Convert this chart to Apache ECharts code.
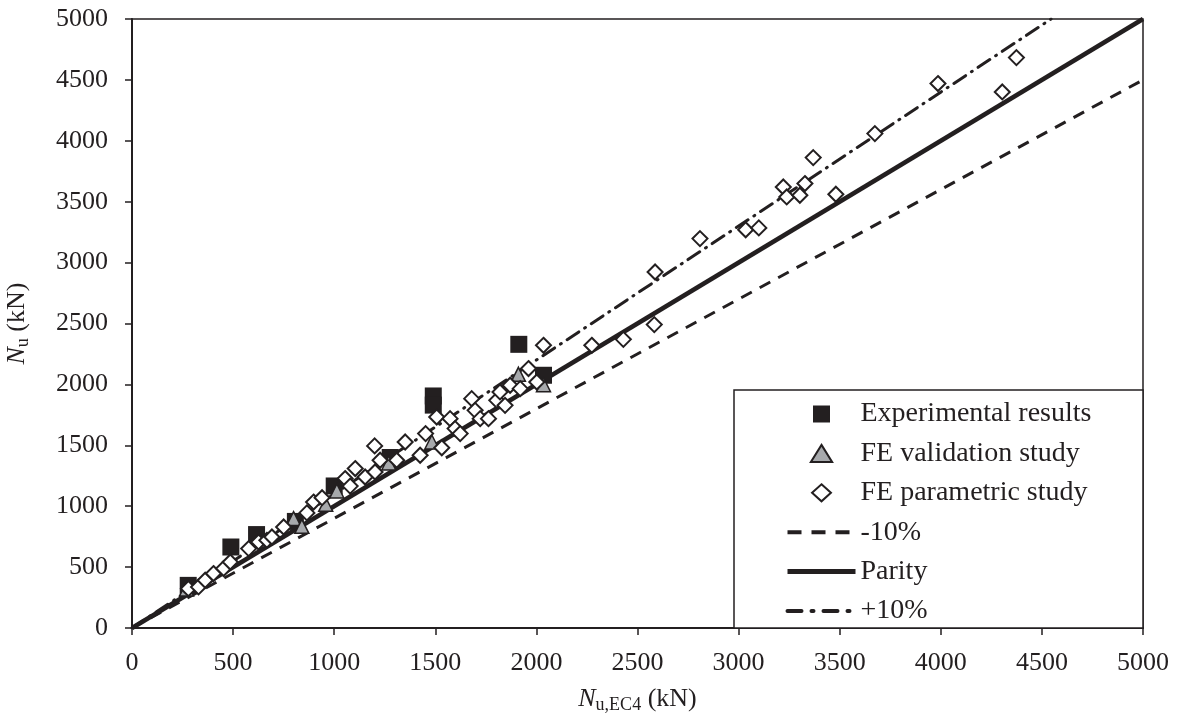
<!DOCTYPE html>
<html>
<head>
<meta charset="utf-8">
<script src="https://cdn.jsdelivr.net/npm/echarts@6/dist/echarts.min.js"></script>
<style>
html,body{margin:0;padding:0;background:#fff;}
#echartsDiv{width:1180px;height:720px;}
</style>
</head>
<body>
<div id="echartsDiv"></div>
<script>
var myChart=echarts.init(document.getElementById('echartsDiv'));

//试验结果 [N_u,EC4, N_u]
var expData=[[278,350],[489,665],[616,767],[808,875],[1000,1166],[1277,1400],[1490,1905],[1490,1830],[1913,2329],[2035,2075]];
//有限元验证
var valData=[[270,320],[799,898],[840,835],[958,1015],[1013,1125],[1270,1355],[1483,1527],[1911,2083],[2035,1998]];
//有限元参数分析
var parData=[[279,323],[329,337],[362,392],[403,447],[453,488],[486,542],[577,652],[626,706],[667,720],[692,747],
	[750,829],[865,945],[898,1034],[940,1070],[1054,1227],[1079,1165],[1104,1309],[1153,1240],[1202,1281],[1200,1495],
	[1227,1377],[1309,1377],[1351,1527],[1425,1418],[1452,1596],[1507,1732],[1532,1480],[1573,1719],[1598,1637],[1623,1596],
	[1680,1883],[1697,1787],[1722,1719],[1763,1719],[1804,1869],[1820,1938],[1845,1828],[1870,1993],[1920,1965],[1961,2130],
	[2002,2020],[2035,2321],[2274,2321],[2430,2370],[2583,2491],[2587,2923],[2809,3197],[3035,3270],[3100,3285],[3221,3621],
	[3238,3539],[3303,3553],[3328,3649],[3369,3862],[3481,3561],[3674,4059],[3986,4470],[4304,4401],[4374,4683]];
//参考线斜率
var lineNames=['-10%','Parity','+10%'];
var lineRatios=[0.9,1.0,1.1];
var axisMax=5000;
var tickStep=500;

var ink='#231f20';
var serif='"Liberation Serif", "Times New Roman", serif';
//图例用的图形(保持比例)
var sqPath='path://M0,0 L1,0 L1,1 L0,1 Z';
var triPath='path://M0.5,0 L1,0.8 L0,0.8 Z';
var diaPath='path://M0.5,0 L1,0.45 L0.5,0.9 L0,0.45 Z';

function refLine(r){
	//从原点画到坐标框边缘
	if(r<=1) return [[0,0],[axisMax,axisMax*r]];
	return [[0,0],[axisMax/r,axisMax]];
}

var lineStyles=[
	{color:ink,width:3,type:[12,9]},
	{color:ink,width:4.5,type:'solid'},
	{color:ink,width:3,type:[14,7,1,7],cap:'round'}
];
var legendLines=[
	{color:ink,width:4,type:[14,10]},
	{color:ink,width:5,type:'solid'},
	{color:ink,width:4,type:[14,10,2,10]}
];

var series=[{
	name:'Experimental results',
	type:'scatter',
	symbol:'rect',
	symbolSize:17,
	itemStyle:{color:ink,opacity:1},
	data:expData,
	z:3
},{
	name:'FE validation study',
	type:'scatter',
	symbol:'triangle',
	symbolSize:[14,14],
	itemStyle:{color:'#a7a9ac',borderColor:ink,borderWidth:1.5,opacity:1},
	data:valData,
	z:3
},{
	name:'FE parametric study',
	type:'scatter',
	symbol:'diamond',
	symbolSize:15,
	itemStyle:{color:'#fff',borderColor:ink,borderWidth:2,opacity:1},
	data:parData,
	z:3
}];
var legendData=[
	{name:'Experimental results',icon:sqPath},
	{name:'FE validation study',icon:triPath},
	{name:'FE parametric study',icon:diaPath,itemStyle:{borderWidth:2}}
];
for(var i=0;i<lineNames.length;i++){
	series.push({
		name:lineNames[i],
		type:'line',
		symbol:'none',
		lineStyle:lineStyles[i],
		itemStyle:{color:ink},
		data:refLine(lineRatios[i]),
		z:1,
		silent:true
	});
	legendData.push({name:lineNames[i],itemStyle:{opacity:0},lineStyle:legendLines[i]});
}

var nameRich={
	i:{fontFamily:serif,fontStyle:'italic',fontSize:26,color:ink},
	s:{fontFamily:serif,fontSize:18,color:ink,padding:[12,0,0,0]},
	n:{fontFamily:serif,fontSize:26,color:ink}
};

var option={
	animation:false,
	textStyle:{fontFamily:serif,color:ink},
	grid:{left:132,right:37,top:19,bottom:92,show:true,borderColor:ink,borderWidth:1.5,outerBoundsMode:'none'},
	legend:{
		orient:'vertical',
		left:780,
		top:394,
		itemWidth:68,
		itemHeight:17,
		itemGap:9.4,
		symbolKeepAspect:true,
		textStyle:{fontFamily:serif,fontSize:28,color:ink,lineHeight:30},
		data:legendData,
		z:6
	},
	graphic:[{
		type:'rect',
		shape:{x:734,y:390,width:409,height:238},
		style:{fill:'#fff',stroke:ink,lineWidth:1.5},
		z:5
	}],
	xAxis:{
		type:'value',
		min:0,max:axisMax,interval:tickStep,
		splitLine:{show:false},
		axisLine:{lineStyle:{color:ink,width:2}},
		axisTick:{length:7,lineStyle:{color:ink,width:1.5}},
		axisLabel:{fontFamily:serif,fontSize:26,color:ink,margin:22,formatter:function(v){return String(v);}},
		name:'{i|N}{s|u,EC4}{n| (kN)}',
		nameLocation:'middle',
		nameGap:56,
		nameTextStyle:{rich:nameRich}
	},
	yAxis:{
		type:'value',
		min:0,max:axisMax,interval:tickStep,
		splitLine:{show:false},
		axisLine:{show:true,lineStyle:{color:ink,width:2}},
		axisTick:{show:true,length:7,lineStyle:{color:ink,width:1.5}},
		axisLabel:{fontFamily:serif,fontSize:26,color:ink,margin:24,formatter:function(v){return String(v);}},
		name:'{i|N}{s|u}{n| (kN)}',
		nameLocation:'middle',
		nameRotate:90,
		nameGap:100,
		nameTextStyle:{rich:nameRich}
	},
	series:series
};
myChart.setOption(option);
</script>
</body>
</html>
